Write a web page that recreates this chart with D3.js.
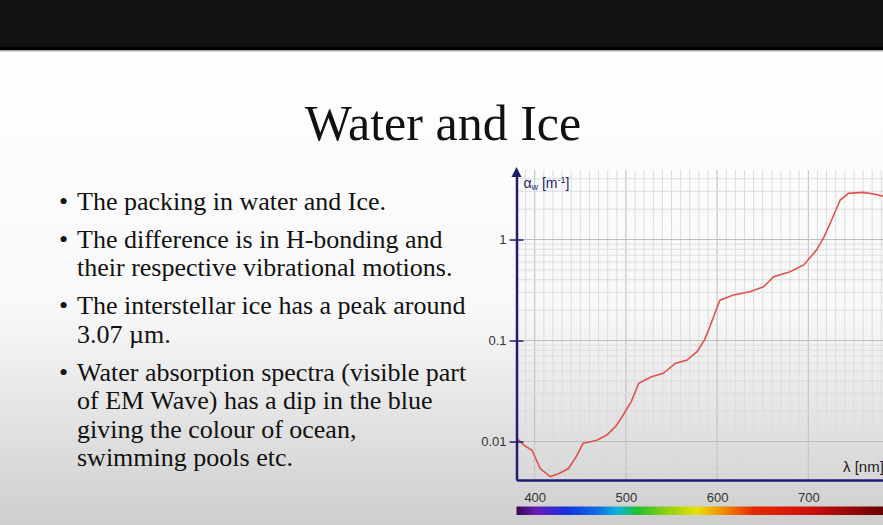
<!DOCTYPE html>
<head>
  <meta charset="utf-8">
  <script src="https://d3js.org/d3.v7.min.js"></script>
  <style>
    body { margin: 0; overflow: hidden; background: #fff; }
    svg { display: block; }
    .serif { font-family: "Liberation Serif", "Times New Roman", Times, serif; }
    .sans { font-family: "Liberation Sans", Arial, sans-serif; }
  </style>
</head>

<body>
  <svg width="883" height="525"></svg>
  <script>
    // data
    var wavelength = [380, 388, 397, 406, 417, 426, 437, 446, 453, 460, 468, 479, 489, 497, 506, 514, 528, 541, 554, 567, 578, 586, 592, 603, 618, 636, 651, 662, 680, 695, 709, 717, 724, 735, 744, 752, 760, 772, 782, 792];
    var absorption = [0.0108, 0.0092, 0.0082, 0.0054, 0.0045, 0.0048, 0.0054, 0.0072, 0.0096, 0.0099, 0.0103, 0.0116, 0.0142, 0.0183, 0.025, 0.0377, 0.0438, 0.0473, 0.0594, 0.064, 0.0776, 0.101, 0.137, 0.251, 0.282, 0.304, 0.341, 0.428, 0.48, 0.56, 0.787, 1.05, 1.45, 2.46, 2.87, 2.9, 2.93, 2.82, 2.69, 2.6];
    var yTicks = [0.01, 0.1, 1];
    var xTicks = [400, 500, 600, 700];
    var spectrumNm = [380, 402, 435, 470, 490, 512, 545, 578, 607, 640, 700, 782, 800];
    var spectrumColor = ["#3a0650", "#6a1cb8", "#1232e0", "#1070e0", "#12b2e0", "#1ec030", "#90d010", "#e8e000", "#f08a00", "#e42a00", "#d01010", "#6a0000", "#5a0000"];

    var bullets = [
      ["The packing in water and Ice."],
      ["The difference is in H-bonding and", "their respective vibrational motions."],
      ["The interstellar ice has a peak around", "3.07 \u00b5m."],
      ["Water absorption spectra (visible part", "of EM Wave) has a dip in the blue", "giving the colour of ocean,", "swimming pools etc."]
    ];

    var svg = d3.select('svg');
    var defs = svg.append('defs');

    // slide background
    var bg = defs.append('linearGradient').attr('id', 'bg')
      .attr('x1', 0).attr('y1', 0).attr('x2', 0).attr('y2', 1);
    bg.append('stop').attr('offset', '0%').attr('stop-color', '#ffffff');
    bg.append('stop').attr('offset', '55%').attr('stop-color', '#f8f8f8');
    bg.append('stop').attr('offset', '100%').attr('stop-color', '#cecece');
    svg.append('rect').attr('x', 0).attr('y', 50).attr('width', 883).attr('height', 475)
      .attr('fill', 'url(#bg)');
    svg.append('rect').attr('x', 0).attr('y', 0).attr('width', 883).attr('height', 47).attr('fill', '#111');
    svg.append('rect').attr('x', 0).attr('y', 47).attr('width', 883).attr('height', 3).attr('fill', '#000');
    svg.append('rect').attr('x', 0).attr('y', 50).attr('width', 883).attr('height', 1.5).attr('fill', '#aaa');

    // title
    svg.append('text')
      .attr('class', 'serif')
      .attr('x', 443).attr('y', 140)
      .attr('text-anchor', 'middle')
      .attr('font-size', 50)
      .attr('fill', '#111')
      .text('Water and Ice');

    // bullets
    var lineY = 210;
    var list = svg.append('g')
      .attr('class', 'serif')
      .attr('font-size', 26)
      .attr('fill', '#111');
    bullets.forEach(function(lines) {
      list.append('text').attr('x', 59).attr('y', lineY).text('\u2022');
      lines.forEach(function(l, i) {
        list.append('text').attr('x', 77).attr('y', lineY + i * 28.6).text(l);
      });
      lineY += (lines.length - 1) * 28.6 + 37.8;
    });

    // scales
    var plotTop = 170, plotBottom = 480, plotLeft = 516.5;
    var xScale = d3.scaleLinear().domain([380, 800]).range([plotLeft, 899.5]);
    var yScale = d3.scaleLog().domain([0.00416, 4.88]).range([plotBottom, plotTop]);

    // grid
    var grid = svg.append('g');
    d3.range(380, 801, 10).forEach(function(v) {
      grid.append('line')
        .attr('x1', xScale(v)).attr('x2', xScale(v))
        .attr('y1', plotTop).attr('y2', plotBottom)
        .attr('stroke', v % 100 === 0 ? '#bdbdbd' : '#dcdcdc')
        .attr('stroke-width', 1);
    });
    var yGrid = [];
    [-3, -2, -1, 0].forEach(function(e) {
      d3.range(1, 10).forEach(function(k) { yGrid.push(+(k * Math.pow(10, e)).toPrecision(3)); });
    });
    yGrid.filter(function(v) { return v >= 0.00416 && v <= 4.88; }).forEach(function(v) {
      var major = yTicks.indexOf(v) >= 0;
      grid.append('line')
        .attr('x1', plotLeft).attr('x2', 883)
        .attr('y1', yScale(v)).attr('y2', yScale(v))
        .attr('stroke', major ? '#bdbdbd' : '#dcdcdc')
        .attr('stroke-width', 1);
    });

    // curve
    var line = d3.line()
      .x(function(d, i) { return xScale(wavelength[i]); })
      .y(function(d) { return yScale(d); });
    svg.append('path')
      .datum(absorption)
      .attr('d', line)
      .attr('fill', 'none')
      .attr('stroke', '#e0524a')
      .attr('stroke-width', 1.6);

    // axes
    var navy = '#1f1f72';
    var xAxis = d3.axisBottom(xScale)
      .tickValues(xTicks)
      .tickSize(0)
      .tickPadding(12.5)
      .tickFormat(d3.format('d'));
    var gx = svg.append('g')
      .attr('transform', 'translate(' + [0, plotBottom] + ')')
      .call(xAxis);
    gx.select('.domain').attr('stroke', navy).attr('stroke-width', 2.5);
    gx.selectAll('text').attr('fill', '#333').attr('class', 'sans').attr('font-size', 13);
    gx.attr('font-family', null).attr('font-size', null);

    var yAxis = d3.axisLeft(yScale)
      .tickValues(yTicks)
      .tickSize(7)
      .tickSizeOuter(0)
      .tickPadding(3)
      .tickFormat(function(d) { return d; });
    var gy = svg.append('g')
      .attr('transform', 'translate(' + [plotLeft, 0] + ')')
      .call(yAxis);
    gy.select('.domain').attr('stroke', navy).attr('stroke-width', 2.5);
    gy.selectAll('.tick line').attr('x1', 7).attr('stroke', navy).attr('stroke-width', 1.5);
    gy.selectAll('text').attr('fill', '#333').attr('class', 'sans').attr('font-size', 13);
    gy.attr('font-family', null).attr('font-size', null);

    // arrow on y axis
    svg.append('path')
      .attr('d', 'M' + (plotLeft - 5) + ',' + (plotTop + 7) + 'L' + plotLeft + ',' + (plotTop - 3) + 'L' + (plotLeft + 5) + ',' + (plotTop + 7) + 'Z')
      .attr('fill', navy);

    // axis titles
    var yt = svg.append('text')
      .attr('class', 'sans')
      .attr('x', plotLeft + 7).attr('y', 188)
      .attr('fill', navy)
      .attr('font-size', 14);
    yt.append('tspan').text('\u03b1');
    yt.append('tspan').attr('dy', 2).attr('font-size', 9).text('w');
    yt.append('tspan').attr('dy', -2).text(' [m');
    yt.append('tspan').attr('dy', -5).attr('font-size', 9).text('-1');
    yt.append('tspan').attr('dy', 5).text(']');

    svg.append('text')
      .attr('class', 'sans')
      .attr('x', 843).attr('y', 472)
      .attr('fill', '#222')
      .attr('font-size', 15)
      .text('\u03bb [nm]');

    // spectrum bar
    var sg = defs.append('linearGradient').attr('id', 'spectrum')
      .attr('gradientUnits', 'userSpaceOnUse')
      .attr('x1', xScale(380)).attr('x2', xScale(800)).attr('y1', 0).attr('y2', 0);
    spectrumNm.forEach(function(nm, i) {
      sg.append('stop')
        .attr('offset', ((nm - 380) / 420 * 100) + '%')
        .attr('stop-color', spectrumColor[i]);
    });
    svg.append('rect')
      .attr('x', xScale(380)).attr('y', 506.5)
      .attr('width', xScale(800) - xScale(380)).attr('height', 8.5)
      .attr('fill', 'url(#spectrum)');
  </script>
</body>
</html>
